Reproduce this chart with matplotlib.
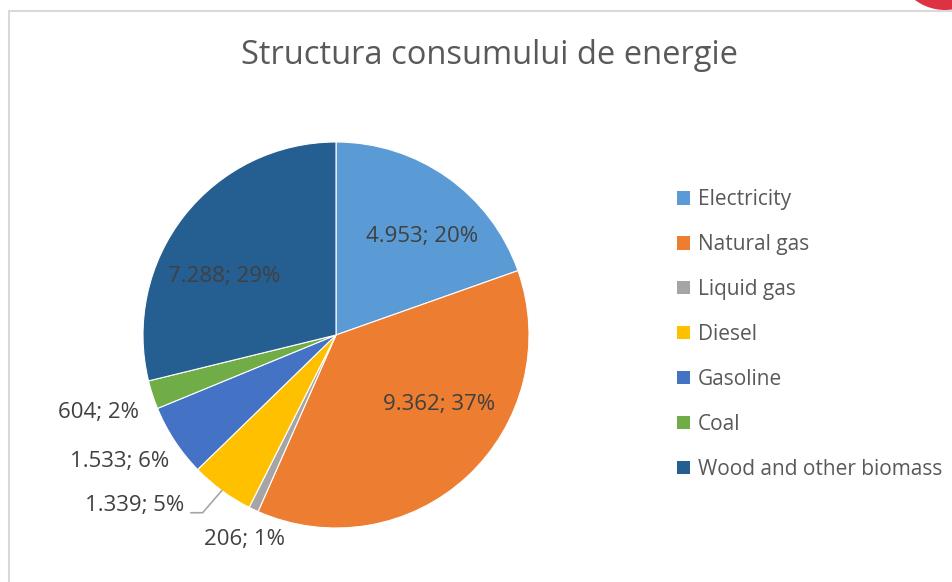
import numpy as np
import matplotlib
matplotlib.use("Agg")
import matplotlib.pyplot as plt
from matplotlib.patches import Rectangle, Ellipse, Patch

# data
categories = ["Electricity", "Natural gas", "Liquid gas", "Diesel",
              "Gasoline", "Coal", "Wood and other biomass"]
values = [4953, 9362, 206, 1339, 1533, 604, 7288]
colors = ["#5B9BD5", "#ED7D31", "#A5A5A5", "#FFC000",
          "#4472C4", "#70AD47", "#255E91"]
title = "Structura consumului de energie"

# label positions (pie radius units), as Excel placed them
label_pos = [(0.446, 0.508), (0.534, -0.358), (-0.472, -1.062), (-1.041, -0.881),
             (-1.119, -0.653), (-1.228, -0.404), (-0.580, 0.301)]

plt.rcParams['font.family'] = ['Open Sans', 'DejaVu Sans']
txt = "#595959"
lab_col = "#404040"

W, H = 953, 582
fig = plt.figure(figsize=(W / 100, H / 100), dpi=100)

# chart area border (top and left visible)
fig.patches.append(Rectangle((9 / W, -0.1), 1.2, 1 - 11 / H + 0.1, transform=fig.transFigure,
                             facecolor="none", edgecolor="#D9D9D9", linewidth=1.5, zorder=-1))
# red corner decoration
fig.patches.append(Ellipse((945 / W, 1 + 40 / H), 100 / W, 100 / H, transform=fig.transFigure,
                           facecolor="#DC3242", edgecolor="none", zorder=-1))

cx, cy, R = 336, 335, 193
ax = fig.add_axes([(cx - R) / W, (H - cy - R) / H, 2 * R / W, 2 * R / H])
ax.patch.set_visible(False)
wedges, _ = ax.pie(values, colors=colors, startangle=90, counterclock=False,
                   wedgeprops=dict(edgecolor="white", linewidth=0.8))
ax.set_xlim(-1, 1)
ax.set_ylim(-1, 1)
ax.set_aspect("equal")
ax.axis("off")

total = sum(values)
for i, v in enumerate(values):
    lab = "{:,}".format(v).replace(",", ".") + "; " + "{:.0f}%".format(v / total * 100)
    x, y = label_pos[i]
    ax.text(x, y, lab, ha="center", va="center", fontsize=16, color=lab_col,
            clip_on=False)

# leader line for Diesel
w = wedges[3]
mid = np.deg2rad((w.theta1 + w.theta2) / 2)
ex, ey = np.cos(mid), np.sin(mid)
lx, ly = label_pos[3]
ax.plot([lx + 0.29, lx + 0.35, ex], [ly - 0.04, ly - 0.04, ey], color="#A6A6A6",
        linewidth=1.2, clip_on=False)

fig.text(490 / W, 1 - 56 / H, title, ha="center", va="center", fontsize=23.5, color=txt)

handles = [Patch(facecolor=c, edgecolor="none") for c in colors]
fig.legend(handles, categories, loc="center left", bbox_to_anchor=(677 / W, 1 - 334.5 / H),
           frameon=False, fontsize=15, labelcolor=txt, handlelength=0.62, handleheight=0.62,
           handletextpad=0.4, labelspacing=1.15, borderpad=0, borderaxespad=0)

fig.savefig("out.png", dpi=100)
